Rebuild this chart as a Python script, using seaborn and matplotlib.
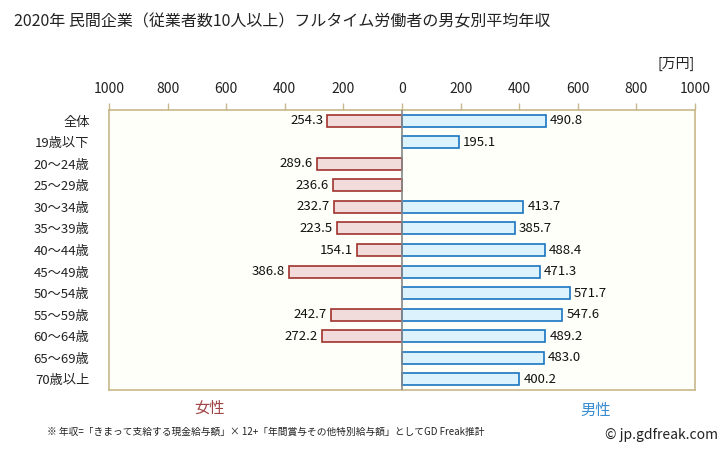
import numpy as np
import pandas as pd
import matplotlib
matplotlib.use("Agg")
import matplotlib.pyplot as plt
import seaborn as sns

categories = ["全体", "19歳以下", "20〜24歳", "25〜29歳", "30〜34歳", "35〜39歳",
              "40〜44歳", "45〜49歳", "50〜54歳", "55〜59歳", "60〜64歳", "65〜69歳", "70歳以上"]
female = [254.3, np.nan, 289.6, 236.6, 232.7, 223.5, 154.1, 386.8, np.nan, 242.7, 272.2, np.nan, np.nan]
male = [490.8, 195.1, np.nan, np.nan, 413.7, 385.7, 488.4, 471.3, 571.7, 547.6, 489.2, 483.0, 400.2]
tick_values = [-1000, -800, -600, -400, -200, 0, 200, 400, 600, 800, 1000]
tick_labels = ["1000", "800", "600", "400", "200", "0", "200", "400", "600", "800", "1000"]

sns.set_theme(style="white")
plt.rcParams['font.family'] = ['Noto Sans CJK JP', 'DejaVu Sans']

fig = plt.figure(figsize=(7.28, 4.51), dpi=100)
ax = fig.add_axes([109/728, 1-390/451, (695-109)/728, (390-110)/451])
ax.set_facecolor("#fffffa")

df_f = pd.DataFrame({"cat": categories, "val": [-v if not np.isnan(v) else np.nan for v in female]})
df_m = pd.DataFrame({"cat": categories, "val": male})

sns.barplot(data=df_f.dropna(), y="cat", x="val", order=categories, orient="h", ax=ax,
            color="#f2dcdb", edgecolor="#a0322d", linewidth=1.2, width=0.56, saturation=1)
sns.barplot(data=df_m.dropna(), y="cat", x="val", order=categories, orient="h", ax=ax,
            color="#dcf3fd", edgecolor="#1a74c0", linewidth=1.2, width=0.56, saturation=1)

for i, v in enumerate(female):
    if not np.isnan(v):
        ax.text(-v - 14, i, f"{v:.1f}", ha="right", va="center", fontsize=9.5, color="#111111")
for i, v in enumerate(male):
    if not np.isnan(v):
        ax.text(v + 14, i, f"{v:.1f}", ha="left", va="center", fontsize=9.5, color="#111111")

ax.axvline(0, color="#888888", linewidth=1.2, zorder=3)
ax.set_xlim(-1000, 1000)
ax.set_ylim(len(categories) - 0.5, -0.5)
ax.set_xticks(tick_values)
ax.set_xticklabels(tick_labels)
ax.xaxis.tick_top()
ax.tick_params(axis="x", top=True, bottom=False, length=5, color="#c8b78a", labelsize=10,
               pad=5, labelcolor="#222222", direction="out", width=1)
ax.tick_params(axis="y", left=False, labelsize=9.5, labelcolor="#222222", pad=8)
ax.set_xlabel("")
ax.set_ylabel("")
for s in ax.spines.values():
    s.set_color("#c8b78a")
    s.set_linewidth(1.2)

fig.text(14/728, 1-22/451, "2020年 民間企業（従業者数10人以上）フルタイム労働者の男女別平均年収",
         fontsize=11.5, ha="left", va="center", color="#222222")
fig.text(695/728, 1-64/451, "[万円]", fontsize=10, ha="right", va="center", color="#222222")
fig.text(210/728, 1-408/451, "女性", fontsize=11, ha="center", va="center", color="#a04545")
fig.text(596/728, 1-410/451, "男性", fontsize=11, ha="center", va="center", color="#3a8cd0")
fig.text(47/728, 1-432/451, "※ 年収=「きまって支給する現金給与額」× 12+「年間賞与その他特別給与額」としてGD Freak推計",
         fontsize=7, ha="left", va="center", color="#222222")
fig.text(718/728, 1-435/451, "© jp.gdfreak.com", fontsize=10, ha="right", va="center", color="#222222")

fig.savefig("out.png", dpi=100)
